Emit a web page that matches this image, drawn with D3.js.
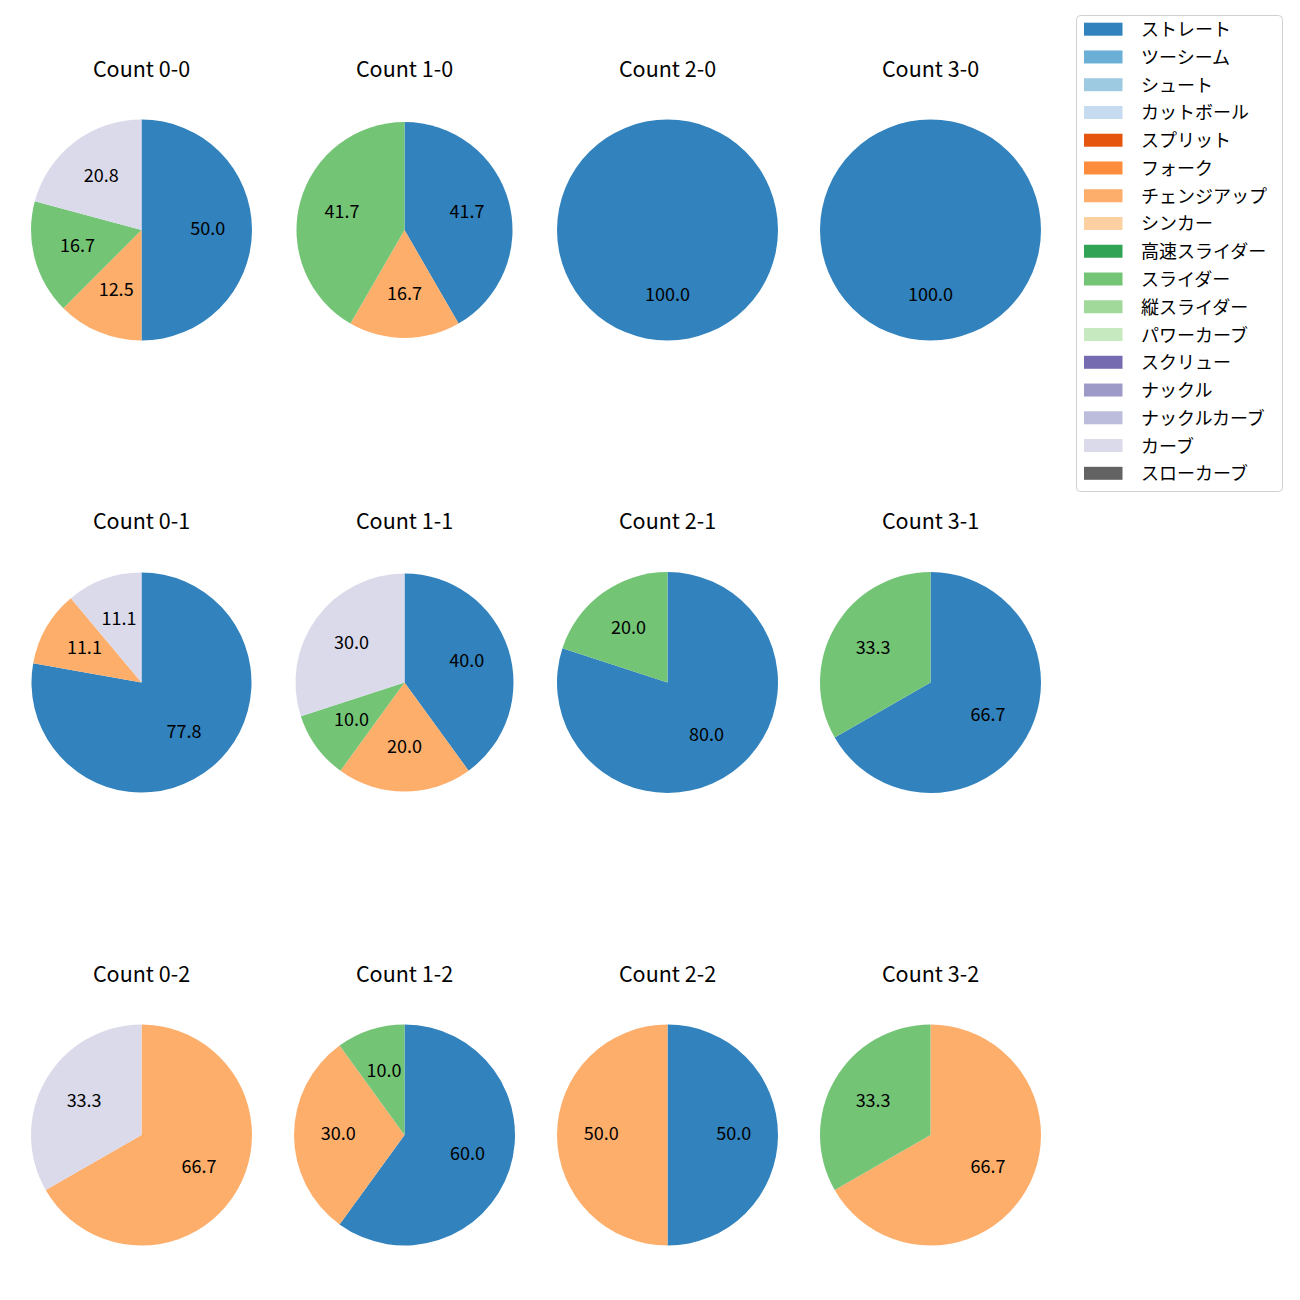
<!DOCTYPE html>
<html>
<head>
<meta charset="utf-8">
<script src="https://cdn.jsdelivr.net/npm/d3@7"></script>
<style>
  html, body { margin: 0; padding: 0; background: #fff; }
  text { font-family: "Noto Sans CJK JP", "Noto Sans", sans-serif; fill: #000; }
</style>
</head>
<body>
<svg id="chart" width="1300" height="1300"></svg>
<script>
// ---- data ----
const pitchTypes = ["ストレート","ツーシーム","シュート","カットボール","スプリット","フォーク","チェンジアップ","シンカー","高速スライダー","スライダー","縦スライダー","パワーカーブ","スクリュー","ナックル","ナックルカーブ","カーブ","スローカーブ"];
const palette = ["#3182bd","#6baed6","#9ecae1","#c6dbef","#e6550d","#fd8d3c","#fdae6b","#fdd0a2","#31a354","#74c476","#a1d99b","#c7e9c0","#756bb1","#9e9ac8","#bcbddc","#dadaeb","#636363"];
const panelTitles = ["Count 0-0","Count 1-0","Count 2-0","Count 3-0",
                     "Count 0-1","Count 1-1","Count 2-1","Count 3-1",
                     "Count 0-2","Count 1-2","Count 2-2","Count 3-2"];
// percentages per panel (panel order as panelTitles)
const straight = [50.0, 41.7, 100.0, 100.0, 77.8, 40.0, 80.0, 66.7, 0, 60.0, 50.0, 0];
const changeup = [12.5, 16.7, 0, 0, 11.1, 20.0, 0, 0, 66.7, 30.0, 50.0, 66.7];
const slider   = [16.7, 41.7, 0, 0, 0, 10.0, 20.0, 33.3, 0, 10.0, 0, 33.3];
const curve    = [20.8, 0, 0, 0, 11.1, 30.0, 0, 0, 33.3, 0, 0, 0];

const seriesByType = {"ストレート": straight, "チェンジアップ": changeup, "スライダー": slider, "カーブ": curve};

// ---- layout ----
const colX = d3.scaleLinear().domain([0, 3]).range([141.5, 930.5]);
const rowY = d3.scaleLinear().domain([0, 2]).range([230, 1135]);
const panelRadius = [110.5, 108, 110.5, 110.5, 110, 109, 110.5, 110.5, 110.5, 110.5, 110.5, 110.5];
const color = d3.scaleOrdinal().domain(pitchTypes).range(palette);

const svg = d3.select("#chart");
svg.append("rect").attr("width", 1300).attr("height", 1300).attr("fill", "#fff");

const pie = d3.pie().sort(null).value(d => d.value).startAngle(0).endAngle(2 * Math.PI);

panelTitles.forEach((title, i) => {
  const col = i % 4, row = Math.floor(i / 4);
  const cx = colX(col), cy = rowY(row), r = panelRadius[i];
  const data = pitchTypes.map(t => ({type: t, value: seriesByType[t] ? seriesByType[t][i] : 0}))
                         .filter(d => d.value > 0);
  const g = svg.append("g").attr("transform", `translate(${cx},${cy})`);
  const arc = d3.arc().innerRadius(0).outerRadius(r);
  const labelArc = d3.arc().innerRadius(r * 0.6).outerRadius(r * 0.6);
  const arcs = pie(data);
  g.selectAll("path").data(arcs).join("path")
    .attr("d", arc)
    .attr("fill", d => color(d.data.type));
  g.selectAll("text.lbl").data(arcs).join("text")
    .attr("class", "lbl")
    .attr("transform", d => `translate(${labelArc.centroid(d)})`)
    .attr("y", -3)
    .attr("text-anchor", "middle")
    .attr("dominant-baseline", "central")
    .attr("font-size", "18px")
    .text(d => d.data.value.toFixed(1));
  svg.append("text")
    .attr("x", cx).attr("y", cy - 153.5)
    .attr("text-anchor", "middle")
    .attr("font-size", "21.5px")
    .text(title);
});

// ---- legend ----
const legend = svg.append("g");
legend.append("rect")
  .attr("x", 1076.5).attr("y", 15.5).attr("width", 206).attr("height", 476)
  .attr("rx", 4).attr("ry", 4)
  .attr("fill", "#fff").attr("stroke", "#d0d0d0").attr("stroke-width", 1);
const legY = d3.scaleLinear().domain([0, pitchTypes.length - 1]).range([29.2, 473.3]);
pitchTypes.forEach((t, k) => {
  legend.append("rect")
    .attr("x", 1084).attr("y", legY(k) - 6.5).attr("width", 38.5).attr("height", 13)
    .attr("fill", color(t));
  legend.append("text")
    .attr("x", 1141).attr("y", legY(k) - 1)
    .attr("dominant-baseline", "central")
    .attr("font-size", "18px")
    .text(t);
});
</script>
</body>
</html>
